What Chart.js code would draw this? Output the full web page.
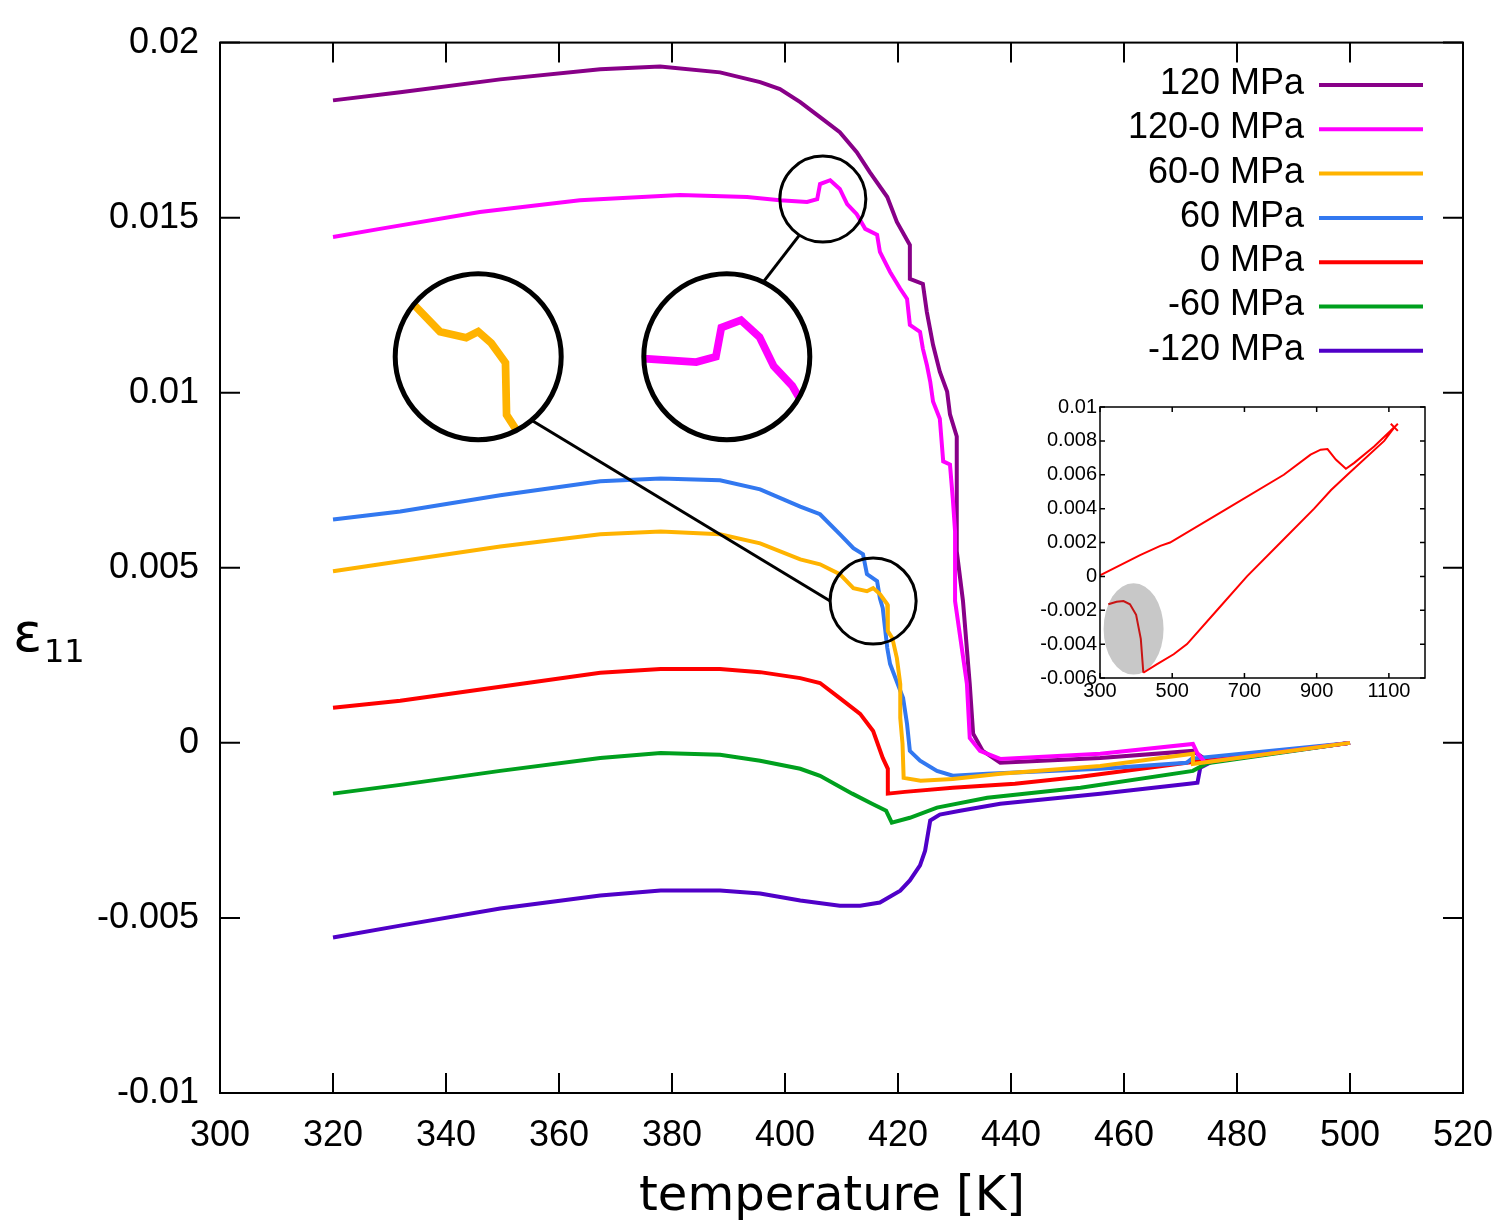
<!DOCTYPE html>
<html>
<head>
<meta charset="utf-8">
<script src="https://cdn.jsdelivr.net/npm/chart.js@4.4.1/dist/chart.umd.min.js"></script>
<style>
  body { margin: 0; background: #fff; }
  #wrap { position: relative; width: 1494px; height: 1230px; }
  #grafico { position: absolute; left: 0; top: 0; }
  #recuadro { position: absolute; left: 1030px; top: 392px; }
</style>
</head>
<body>
<div id="wrap">
  <canvas id="grafico" width="1494" height="1230"></canvas>
  <canvas id="recuadro" width="400" height="313"></canvas>
</div>
<script>
// series del grafico principal (temperatura [K], deformacion e11)
const etiquetas = ['120 MPa', '120-0 MPa', '60-0 MPa', '60 MPa', '0 MPa', '-60 MPa', '-120 MPa'];
const colores = ['#880088', '#ff00ff', '#ffb300', '#3278f0', '#ff0000', '#00a01e', '#5000c8'];

const t120 = [320, 331.9, 349.6, 367.3, 377.9, 388.5, 395.6, 399.1, 402.7, 406.2, 409.7, 412.7, 415.0, 418.1, 419.8, 422.1, 422.1, 424.4, 425.1, 426.2, 427.4, 428.7, 429.2, 430.4, 430.4, 431.5, 432.7, 433.3, 435.0, 438.1, 455.8, 472.2, 474.3, 475.2, 500];
const e120 = [0.01835, 0.01858, 0.01895, 0.01924, 0.01932, 0.01915, 0.01887, 0.01867, 0.0183, 0.01787, 0.01744, 0.01687, 0.0163, 0.01559, 0.01488, 0.01422, 0.01325, 0.01311, 0.01231, 0.01137, 0.0106, 0.01003, 0.00938, 0.00875, 0.00547, 0.00405, 0.00168, 0.00026, -0.00023, -0.00057, -0.00043, -0.00023, -0.00046, -0.00054, 0];

const t120a0 = [320, 328.3, 346, 363.7, 381.4, 393.3, 399.1, 403.9, 405.7, 406.2, 408, 409.7, 411, 412.7, 414.2, 416.3, 416.8, 418.6, 420.4, 421.6, 422.1, 423.9, 424.4, 425.1, 425.7, 426.2, 427.4, 428.0, 429.2, 429.7, 430.1, 430.1, 432.2, 432.7, 434.5, 438.1, 455.8, 472.2, 473.0, 474.3, 500];
const e120a0 = [0.01445, 0.01468, 0.01516, 0.0155, 0.01565, 0.01559, 0.0155, 0.01545, 0.01553, 0.01596, 0.01607, 0.01582, 0.01539, 0.0151, 0.01468, 0.01451, 0.01402, 0.01345, 0.01297, 0.01268, 0.01194, 0.01174, 0.01126, 0.0108, 0.01032, 0.00975, 0.00926, 0.00804, 0.00795, 0.00698, 0.00604, 0.00405, 0.00168, 0.00014, -0.00023, -0.00046, -0.00031, -0.00003, -0.0003, -0.00055, 0];

const t60a0 = [320, 331.9, 349.6, 367.3, 378, 388.5, 395.6, 402.7, 406.2, 409.7, 412.1, 414.5, 415.6, 416.8, 418.1, 418.2, 419.0, 419.8, 420.4, 420.4, 420.8, 421.0, 424.0, 429.7, 438.1, 455.8, 472.2, 472.2, 500];
const e60a0 = [0.0049, 0.00519, 0.00561, 0.00596, 0.00604, 0.00596, 0.0057, 0.00524, 0.0051, 0.00482, 0.00442, 0.00433, 0.00442, 0.00425, 0.00396, 0.00319, 0.00299, 0.00242, 0.00168, 0.00071, -0.00003, -0.001, -0.00108, -0.00103, -0.00088, -0.00066, -0.00031, -0.0006, 0];

const t60 = [320, 331.9, 349.6, 367.3, 378, 388.5, 395.6, 402.7, 406.2, 409.7, 412.1, 413.8, 414.5, 416.3, 416.8, 417.3, 417.7, 418.1, 418.6, 420.9, 421.6, 422.1, 423.9, 426.9, 429.7, 435.8, 455.8, 471.1, 472, 500];
const e60 = [0.00638, 0.00661, 0.00707, 0.00747, 0.00755, 0.0075, 0.00724, 0.00675, 0.00653, 0.00596, 0.00556, 0.00539, 0.00482, 0.00462, 0.00413, 0.00385, 0.00328, 0.00271, 0.00225, 0.00128, 0.00054, -0.00023, -0.00051, -0.0008, -0.00094, -0.00088, -0.00074, -0.00057, -0.00045, 0];

const t0 = [320, 331.9, 349.6, 367.3, 378, 388.5, 395.6, 402.7, 406.2, 409.7, 413.3, 415.6, 417.3, 418.2, 418.2, 421.2, 429.7, 440.7, 452.3, 471.1, 500];
const e0 = [0.001, 0.0012, 0.0016, 0.002, 0.00211, 0.00211, 0.00202, 0.00185, 0.00171, 0.00128, 0.00083, 0.00034, -0.00043, -0.00074, -0.00145, -0.0014, -0.00128, -0.00117, -0.00097, -0.00057, 0];

const tm60 = [320, 331.9, 349.6, 367.3, 378, 388.5, 395.6, 402.7, 406.2, 411.9, 415.4, 417.9, 418.9, 422.1, 426.9, 435.8, 452.3, 472.2, 474.7, 500];
const em60 = [-0.00145, -0.0012, -0.0008, -0.00043, -0.00029, -0.00034, -0.00051, -0.00074, -0.00094, -0.00145, -0.00174, -0.00194, -0.00228, -0.00214, -0.00185, -0.00157, -0.00128, -0.0008, -0.00058, 0];

const tm120 = [320, 331.9, 349.6, 367.3, 378, 388.5, 395.6, 402.7, 409.7, 413.3, 416.8, 420.4, 422.1, 423.9, 424.8, 425.7, 427.4, 431.0, 438.1, 455.8, 471.5, 473.0, 473.5, 475.8, 500];
const em120 = [-0.00556, -0.00522, -0.00473, -0.00436, -0.00422, -0.00422, -0.0043, -0.0045, -0.00465, -0.00465, -0.00456, -0.00422, -0.00393, -0.0035, -0.00308, -0.00222, -0.00205, -0.00194, -0.00174, -0.00145, -0.00117, -0.00114, -0.00071, -0.00052, 0];

// recuadro: ciclo completo a 0 MPa
const tRecuadro = [323, 346, 365, 383, 400, 413, 420, 457, 504, 541, 624, 707, 800, 893, 940, 985, 1087, 1115, 1059, 1004, 981, 953, 930, 911, 883, 809, 652, 494, 467, 411, 300];
const eRecuadro = [-0.00165, -0.0015, -0.00146, -0.00165, -0.00227, -0.00369, -0.00569, -0.0052, -0.0046, -0.004, -0.002, 0, 0.002, 0.004, 0.0051, 0.006, 0.008, 0.0088, 0.00767, 0.0067, 0.00635, 0.0069, 0.00752, 0.00748, 0.00719, 0.006, 0.004, 0.002, 0.0018, 0.00126, 0.00006];
const ticksRecuadroX = [300, 500, 700, 900, 1100];

const temps = [t120, t120a0, t60a0, t60, t0, tm60, tm120];
const defs = [e120, e120a0, e60a0, e60, e0, em60, em120];
const orden = [5, 1, 0, 2, 3, 4, 6];

function puntos(t, e) {
    return t.map((v, i) => ({ x: v, y: e[i] }));
}

function etiquetaY(v) {
    return Number(v.toFixed(4)).toString();
}

// lupas: circulo chico sobre la curva y circulo grande con el detalle
const lupas = [
    { serie: 1, chico: [406.7, 0.01553], grande: [389.7, 0.01103], rChico: 43, rGrande: 83, angGrande: -64, angChico: 123 },
    { serie: 2, chico: [415.6, 0.00405], grande: [345.7, 0.01103], rChico: 43, rGrande: 83, angGrande: 50, angChico: 180 }
];

const pluginLupas = {
    id: 'lupas',
    afterDatasetsDraw(chart) {
        const ctx = chart.ctx;
        const sx = chart.scales.x, sy = chart.scales.y;
        lupas.forEach(l => {
            const cx = sx.getPixelForValue(l.chico[0]), cy = sy.getPixelForValue(l.chico[1]);
            const bx = sx.getPixelForValue(l.grande[0]), by = sy.getPixelForValue(l.grande[1]);
            const k = l.rGrande / l.rChico;
            const pts = chart.getDatasetMeta(l.serie).data;
            ctx.save();
            ctx.beginPath();
            ctx.arc(bx, by, l.rGrande, 0, 2 * Math.PI);
            ctx.fillStyle = '#fff';
            ctx.fill();
            ctx.clip();
            ctx.translate(bx, by);
            ctx.scale(k, k);
            ctx.translate(-cx, -cy);
            ctx.beginPath();
            pts.forEach((p, i) => i ? ctx.lineTo(p.x, p.y) : ctx.moveTo(p.x, p.y));
            ctx.strokeStyle = colores[l.serie];
            ctx.lineWidth = 4;
            ctx.stroke();
            ctx.restore();

            ctx.save();
            ctx.strokeStyle = '#000';
            ctx.lineWidth = 5;
            ctx.beginPath();
            ctx.arc(bx, by, l.rGrande, 0, 2 * Math.PI);
            ctx.stroke();
            ctx.lineWidth = 3;
            ctx.beginPath();
            ctx.arc(cx, cy, l.rChico, 0, 2 * Math.PI);
            ctx.stroke();
            const a1 = l.angGrande * Math.PI / 180, a2 = l.angChico * Math.PI / 180;
            ctx.beginPath();
            ctx.moveTo(bx + l.rGrande * Math.cos(a1), by + l.rGrande * Math.sin(a1));
            ctx.lineTo(cx + l.rChico * Math.cos(a2), cy + l.rChico * Math.sin(a2));
            ctx.stroke();
            ctx.restore();
        });
    }
};

// marco y marcas hacia adentro en los cuatro lados
const pluginMarco = {
    id: 'marco',
    afterDraw(chart, args, o) {
        const ctx = chart.ctx, a = chart.chartArea;
        ctx.save();
        ctx.strokeStyle = '#000';
        ctx.lineWidth = o.grosor;
        ctx.strokeRect(a.left, a.top, a.right - a.left, a.bottom - a.top);
        ctx.beginPath();
        chart.scales.x.ticks.forEach(t => {
            const px = chart.scales.x.getPixelForValue(t.value);
            ctx.moveTo(px, a.bottom); ctx.lineTo(px, a.bottom - o.largo);
            ctx.moveTo(px, a.top); ctx.lineTo(px, a.top + o.largo);
        });
        chart.scales.y.ticks.forEach(t => {
            const py = chart.scales.y.getPixelForValue(t.value);
            ctx.moveTo(a.left, py); ctx.lineTo(a.left + o.largo, py);
            ctx.moveTo(a.right, py); ctx.lineTo(a.right - o.largo, py);
        });
        ctx.stroke();
        ctx.restore();
    }
};

const pluginLeyenda = {
    id: 'leyenda',
    afterDraw(chart, args, o) {
        const ctx = chart.ctx;
        ctx.save();
        ctx.font = '36px "Liberation Sans", Arial, sans-serif';
        ctx.textAlign = 'right';
        ctx.textBaseline = 'middle';
        ctx.fillStyle = '#000';
        chart.data.datasets.forEach((d, i) => {
            const yy = o.y0 + i * o.paso;
            ctx.fillText(d.label, o.xTexto, yy - 1);
            ctx.beginPath();
            ctx.moveTo(o.x1, yy);
            ctx.lineTo(o.x2, yy);
            ctx.strokeStyle = d.borderColor;
            ctx.lineWidth = 4;
            ctx.stroke();
        });
        ctx.restore();
    }
};

const pluginTitulos = {
    id: 'titulos',
    afterDraw(chart) {
        const ctx = chart.ctx;
        ctx.save();
        ctx.fillStyle = '#000';
        ctx.textBaseline = 'alphabetic';
        ctx.textAlign = 'center';
        ctx.font = '48px "DejaVu Sans", sans-serif';
        ctx.fillText('temperature [K]', 832, 1210);
        ctx.textAlign = 'left';
        ctx.font = '54px "DejaVu Sans", sans-serif';
        ctx.fillText('ε', 13, 651);
        ctx.font = '32px "DejaVu Sans", sans-serif';
        ctx.fillText('11', 44, 662);
        ctx.restore();
    }
};

const pluginElipse = {
    id: 'elipse',
    beforeDatasetsDraw(chart) {
        const ctx = chart.ctx, sx = chart.scales.x, sy = chart.scales.y;
        const cx = sx.getPixelForValue(393), cy = sy.getPixelForValue(-0.0031);
        const rx = sx.getPixelForValue(476) - cx, ry = cy - sy.getPixelForValue(-0.0004);
        ctx.save();
        ctx.beginPath();
        ctx.ellipse(cx, cy, rx, ry, 0, 0, 2 * Math.PI);
        ctx.fillStyle = '#c8c8c8';
        ctx.fill();
        ctx.restore();
    }
};

Chart.defaults.font.family = '"Liberation Sans", Arial, sans-serif';
Chart.defaults.color = '#000';

function sinRelleno(s) {
    s.paddingLeft = 0;
    s.paddingRight = 0;
}

function generarGrafico() {
    const ctx = document.getElementById('grafico').getContext('2d');
    new Chart(ctx, {
        type: 'line',
        data: {
            datasets: etiquetas.map((lab, i) => ({
                label: lab,
                data: puntos(temps[i], defs[i]),
                borderColor: colores[i],
                borderWidth: 4,
                pointRadius: 0,
                tension: 0,
                fill: false,
                order: orden[i]
            }))
        },
        options: {
            responsive: false,
            animation: false,
            devicePixelRatio: 1,
            layout: { padding: { top: 41, right: 31, left: 0, bottom: 0 } },
            scales: {
                x: {
                    type: 'linear', min: 300, max: 520,
                    grid: { display: false, drawTicks: false },
                    border: { display: false },
                    ticks: { stepSize: 20, padding: 21, autoSkip: false, maxRotation: 0, font: { size: 36 } },
                    afterFit: s => { s.height = 137; sinRelleno(s); }
                },
                y: {
                    type: 'linear', min: -0.01, max: 0.02,
                    grid: { display: false, drawTicks: false },
                    border: { display: false },
                    ticks: { stepSize: 0.005, padding: 21, autoSkip: false, font: { size: 36 }, callback: etiquetaY },
                    afterFit: s => { s.width = 220; }
                }
            },
            plugins: {
                legend: { display: false },
                tooltip: { enabled: false },
                marco: { grosor: 2, largo: 20 },
                leyenda: { y0: 85, paso: 44.3, xTexto: 1304, x1: 1319, x2: 1423 }
            }
        },
        plugins: [pluginLupas, pluginMarco, pluginLeyenda, pluginTitulos]
    });
}

function generarRecuadro() {
    const ctx = document.getElementById('recuadro').getContext('2d');
    const fin = tRecuadro.indexOf(1115);
    new Chart(ctx, {
        type: 'line',
        data: {
            datasets: [{
                label: '0 MPa',
                data: puntos(tRecuadro, eRecuadro),
                borderColor: '#ff0000',
                borderWidth: 2,
                tension: 0,
                pointStyle: 'crossRot',
                pointRadius: c => c.dataIndex === fin ? 5 : 0,
                pointBorderColor: '#ff0000',
                pointBorderWidth: 2,
                segment: { borderColor: c => c.p0DataIndex < 6 ? '#c81414' : undefined }
            }]
        },
        options: {
            responsive: false,
            animation: false,
            devicePixelRatio: 1,
            layout: { padding: { top: 10, right: 5, left: 0, bottom: 0 } },
            scales: {
                x: {
                    type: 'linear', min: 300, max: 1200,
                    grid: { display: false, drawTicks: false },
                    border: { display: false },
                    afterBuildTicks: s => { s.ticks = ticksRecuadroX.map(v => ({ value: v })); },
                    ticks: { padding: 1, autoSkip: false, maxRotation: 0, font: { size: 20 }, callback: v => String(v) },
                    afterFit: s => { s.height = 27; sinRelleno(s); }
                },
                y: {
                    type: 'linear', min: -0.006, max: 0.01,
                    grid: { display: false, drawTicks: false },
                    border: { display: false },
                    ticks: { stepSize: 0.002, padding: 3, autoSkip: false, font: { size: 20 }, callback: etiquetaY },
                    afterFit: s => { s.width = 70; }
                }
            },
            plugins: {
                legend: { display: false },
                tooltip: { enabled: false },
                marco: { grosor: 1.5, largo: 5 }
            }
        },
        plugins: [pluginElipse, pluginMarco]
    });
}

generarGrafico();
generarRecuadro();
</script>
</body>
</html>
